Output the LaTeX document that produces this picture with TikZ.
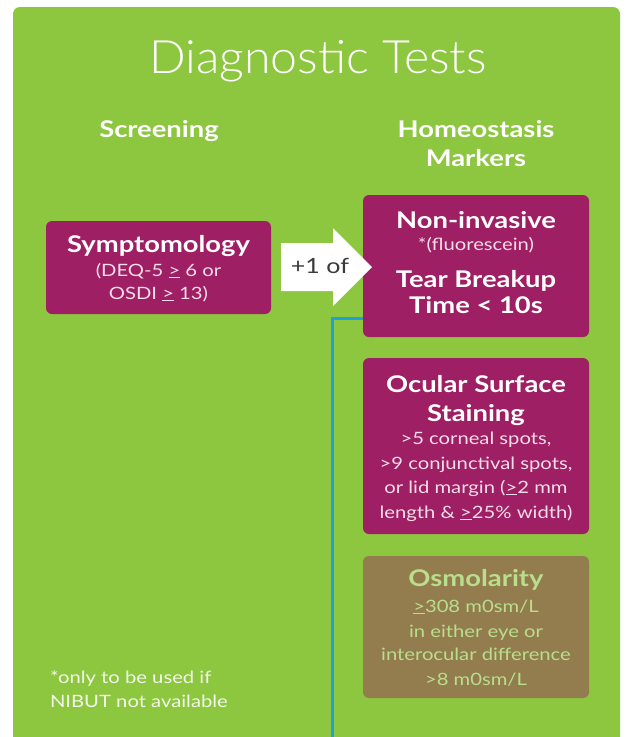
\documentclass[tikz,border=0pt]{standalone}
\usepackage{fontspec}
\setmainfont{Lato}[FakeStretch=1.19]
\newfontfamily\lightfont{Lato Light}[FakeStretch=1.05]
\usetikzlibrary{backgrounds}
\definecolor{bggreen}{HTML}{8DC63F}
\definecolor{magbox}{HTML}{9E1F63}
\definecolor{osmbox}{HTML}{937D4F}
\definecolor{osmtext}{HTML}{B9DE8C}
\definecolor{linkblue}{HTML}{1DA1DC}
\definecolor{softtext}{HTML}{F3DDE9}
\definecolor{greentext}{HTML}{F2F8EA}
\definecolor{arrowtext}{HTML}{3A3A3A}
\tikzset{
  boxbase/.style={rounded corners=6pt, inner sep=0pt},
  magcard/.style={boxbase, fill=magbox},
  osmcard/.style={boxbase, fill=osmbox},
  txt/.style={anchor=base, inner sep=0pt, outer sep=0pt},
  headtxt/.style={txt, text=white, font=\fontsize{23}{23}\selectfont\bfseries},
  smalltxt/.style={txt, text=softtext, font=\fontsize{17}{17}\selectfont},
  linkline/.style={draw=linkblue, line width=3pt},
}
\newcommand{\ugeq}{\underline{>}}
\begin{document}
\begin{tikzpicture}[x=1pt,y=-1pt]
\useasboundingbox (0,0) rectangle (628,737);

% boxes
\node[magcard, minimum width=225pt, minimum height=93pt] (symp) at (158.5,267.5) {};
\node[magcard, minimum width=226pt, minimum height=142pt] (nibut) at (476,266) {};
\node[magcard, minimum width=226pt, minimum height=176pt] (oss) at (476,446) {};
\node[osmcard, minimum width=226pt, minimum height=142pt] (osm) at (476,627) {};

\coordinate (bend) at (332,318);
\coordinate (lineend) at (332,740);

\begin{scope}[on background layer]
\fill[white] (0,0) rectangle (628,737);
\begin{scope}
\clip (0,0) rectangle (628,737);
\fill[bggreen, rounded corners=7pt] (13,7) rectangle (620,760);
\end{scope}
\draw[linkline] (nibut.west |- bend) -- (bend) -- (lineend);
\end{scope}

% title and headings
\node[txt, text=white, font=\fontsize{46}{46}\lightfont] (title) at (318,73) {Diagnostic Tests};
\node[headtxt] (screen) at (159,137) {Screening};
\node[headtxt] (homeo1) at (476,137) {Homeostasis};
\node[headtxt] (homeo2) at (476,166) {Markers};

% symptomology text
\node[headtxt] (s1) at (158.5,252) {Symptomology};
\node[smalltxt] (s2) at (158.5,276) {(DEQ-5 \ugeq{} 6 or};
\node[smalltxt] (s3) at (158.5,299) {OSDI \ugeq{} 13)};

% nibut text
\node[headtxt] (n1) at (476,228) {Non-invasive};
\node[txt, text=softtext, font=\fontsize{17}{17}\selectfont] (n2) at (476,250) {*(fluorescein)};
\node[headtxt] (n3) at (476,287) {Tear Breakup};
\node[headtxt] (n4) at (476,313) {Time < 10s};

% ocular text
\node[headtxt] (o1) at (476,392) {Ocular Surface};
\node[headtxt] (o2) at (476,421) {Staining};
\node[smalltxt] (o3) at (476,444) {>5 corneal spots,};
\node[smalltxt] (o4) at (476,469) {>9 conjunctival spots,};
\node[smalltxt] (o5) at (476,493) {or lid margin (\ugeq2 mm};
\node[smalltxt] (o6) at (476,518) {length \& \ugeq25\% width)};

% osmolarity text
\node[headtxt, text=osmtext] (m1) at (476,586) {Osmolarity};
\node[smalltxt, text=osmtext] (m2) at (476,612) {\ugeq308 m0sm/L};
\node[smalltxt, text=osmtext] (m3) at (476,637) {in either eye or};
\node[smalltxt, text=osmtext] (m4) at (476,660) {interocular difference};
\node[smalltxt, text=osmtext] (m5) at (476,685) {>8 m0sm/L};

% footnote
\node[txt, anchor=base west, text=greentext, font=\fontsize{17}{17}\selectfont] (f1) at (50,683) {*only to be used if};
\node[txt, anchor=base west, text=greentext, font=\fontsize{17}{17}\selectfont] (f2) at (50,707) {NIBUT not available};

% arrow
\fill[white] (281,243) -- (333,243) -- (333,228) -- (372,267) -- (333,306) -- (333,291) -- (281,291) -- cycle;
\node[txt, text=arrowtext, font=\fontsize{21}{21}\selectfont] (plus) at (320,273) {+1 of};
\end{tikzpicture}
\end{document}
